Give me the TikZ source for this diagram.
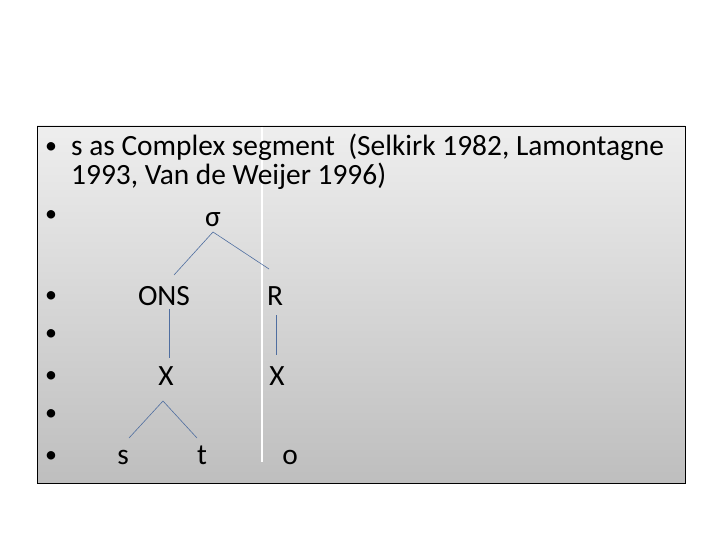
\documentclass[tikz,border=0pt]{standalone}
\usepackage{fontspec}
\setmainfont{Carlito}
\usetikzlibrary{calc}

\definecolor{boxtop}{RGB}{238,238,238}
\definecolor{boxbot}{RGB}{190,190,190}
\definecolor{branch}{RGB}{79,110,160}

\tikzset{
  txt/.style={anchor=base west, inner sep=0pt, font=\fontsize{29.5}{34}\selectfont},
  sym/.style={anchor=base, inner sep=0pt, font=\fontsize{29.5}{34}\selectfont},
  bul/.style={anchor=base west, inner sep=0pt, font=\fontsize{24}{28}\selectfont},
  branchline/.style={draw=branch, line width=0.6bp}
}

\begin{document}
\begin{tikzpicture}[x=1bp, y=-1bp]
      \useasboundingbox (0,0) rectangle (720,540);
      \fill[white] (0,0) rectangle (720,540);
      \shade[top color=boxtop, bottom color=boxbot, draw=black, line width=0.8bp] (37,126) rectangle (685,483);
      \draw[white, line width=1.2bp] (262,127) -- (262,462);

      % bullets
      \foreach \y in {154,222,302,340,382,420,462}
        \node[bul] at (45,\y) {•};

      \node[txt] (l1) at (71,156) {s as Complex segment~ (Selkirk 1982, Lamontagne};
      \node[txt] (l2) at (71,185) {1993, Van de Weijer 1996)};

      % tree
      \node[sym] (sigma) at (213,227) {σ};
      \node[sym] (ons) at (164,305) {ONS};
      \node[sym] (r) at (275,305) {R};
      \node[sym] (xa) at (166,385) {X};
      \node[sym] (xb) at (277,385) {X};
      \node[sym] (s) at (123,464) {s};
      \node[sym] (t) at (202,464) {t};
      \node[sym] (o) at (290,464) {o};

      \coordinate (sigma-b) at (213,232);
      \coordinate (ons-t) at (174,275);
      \coordinate (r-t) at (269,269);
      \coordinate (ons-b) at (169,309);
      \coordinate (xa-t) at (169,358);
      \coordinate (r-b) at (276,315);
      \coordinate (xb-t) at (276,355);
      \coordinate (xa-b) at (163,401);
      \coordinate (s-t) at (129,438);
      \coordinate (t-t) at (197,438);

      \draw[branchline] (ons-t) -- (sigma-b) -- (r-t);
      \draw[branchline] (ons-b) -- (xa-t);
      \draw[branchline] (r-b) -- (xb-t);
      \draw[branchline] (s-t) -- (xa-b) -- (t-t);
    \end{tikzpicture}
\end{document}
